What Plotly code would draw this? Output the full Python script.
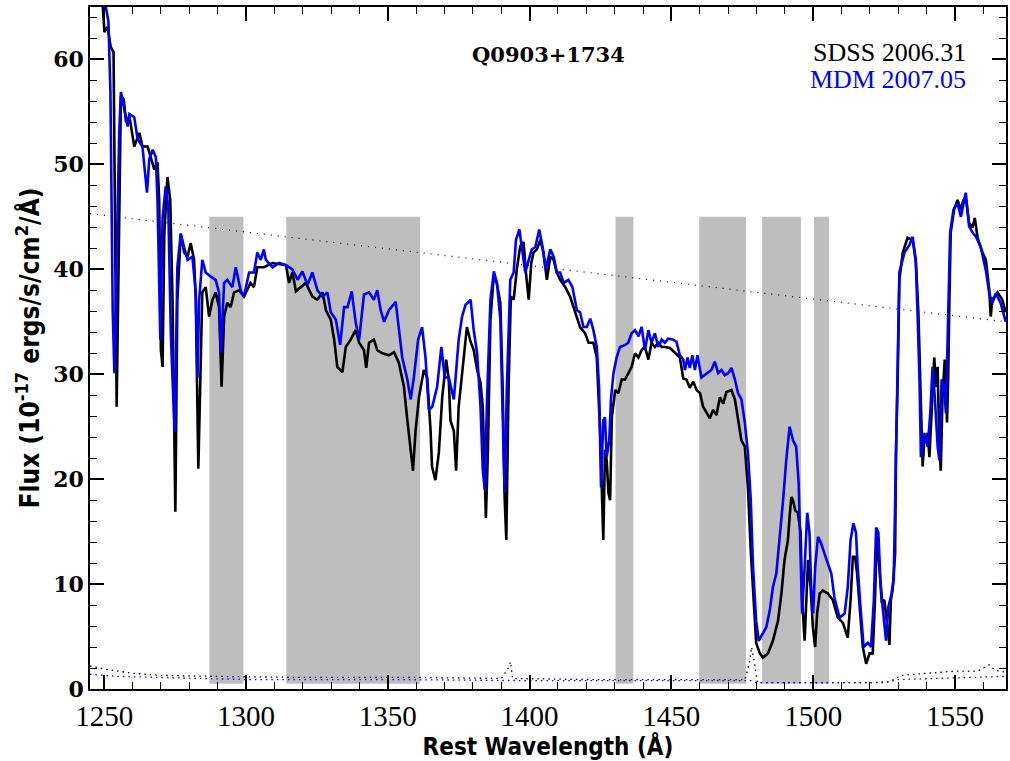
import plotly.graph_objects as go

# ---------------- data ----------------
sdss_wave = [1249.0, 1249.5, 1250.1, 1251.2, 1252.3, 1253.3, 1254.4, 1255.3, 1255.9, 1256.9, 1257.7, 1258.9,
             1260.6, 1262.4, 1263.5, 1265.3, 1266.5, 1267.7, 1268.8, 1269.4, 1270.0, 1270.6, 1271.2, 1272.3,
             1273.3, 1274.1, 1275.1, 1275.8, 1277.0, 1278.2, 1279.4, 1280.5, 1281.7, 1282.3, 1283.2, 1284.6,
             1285.8, 1287.0, 1288.2, 1289.3, 1290.5, 1291.4, 1292.3, 1293.4, 1294.6, 1295.8, 1297.6, 1299.3,
             1301.6, 1302.8, 1304.0, 1306.3, 1309.4, 1314.1, 1315.2, 1316.4, 1317.6, 1319.4, 1321.1, 1323.4,
             1325.2, 1327.0, 1328.2, 1329.9, 1331.1, 1332.2, 1334.0, 1335.2, 1336.9, 1338.7, 1339.9, 1341.6,
             1342.4, 1343.4, 1345.1, 1346.3, 1348.1, 1350.4, 1352.2, 1353.9, 1355.7, 1356.9, 1358.1, 1358.9,
             1359.8, 1361.0, 1362.7, 1363.9, 1365.1, 1365.6, 1366.8, 1368.0, 1369.2, 1370.6, 1371.5, 1372.1,
             1373.3, 1374.1, 1375.0, 1376.2, 1377.4, 1377.9, 1379.2, 1380.3, 1381.5, 1382.7, 1383.5, 1384.2,
             1384.6, 1385.3, 1386.2, 1387.4, 1388.5, 1389.7, 1390.5, 1391.2, 1391.8, 1392.6, 1393.4, 1394.4,
             1395.5, 1396.7, 1397.9, 1398.7, 1399.7, 1400.6, 1401.4, 1402.6, 1403.8, 1404.9, 1406.1, 1407.3,
             1408.5, 1409.6, 1410.8, 1412.6, 1414.3, 1416.1, 1417.8, 1419.6, 1420.8, 1422.5, 1423.7, 1424.9,
             1425.4, 1426.0, 1426.6, 1427.2, 1427.8, 1428.4, 1429.0, 1430.2, 1431.3, 1432.5, 1433.7, 1434.8,
             1436.0, 1437.2, 1438.4, 1439.5, 1440.7, 1441.9, 1443.0, 1444.2, 1445.4, 1446.6, 1447.7, 1449.5,
             1451.3, 1453.0, 1454.2, 1455.3, 1456.5, 1457.7, 1458.9, 1460.1, 1461.2, 1462.4, 1463.6, 1464.7,
             1465.9, 1467.1, 1468.3, 1469.4, 1471.2, 1472.4, 1473.5, 1474.7, 1475.9, 1477.0, 1478.0, 1478.8,
             1479.9, 1481.2, 1482.3, 1484.1, 1485.8, 1487.6, 1488.8, 1489.9, 1491.1, 1491.7, 1492.3, 1492.9,
             1493.7, 1494.6, 1495.6, 1496.1, 1497.0, 1497.6, 1498.2, 1499.1, 1499.9, 1500.7, 1501.4, 1502.3,
             1503.4, 1505.2, 1506.9, 1508.7, 1510.5, 1512.2, 1513.2, 1514.0, 1514.8, 1515.5, 1516.3, 1517.5,
             1518.7, 1519.9, 1521.0, 1521.8, 1522.5, 1523.4, 1524.2, 1525.1, 1526.0, 1526.9, 1527.4, 1528.0,
             1528.9, 1529.2, 1529.8, 1530.4, 1531.6, 1533.3, 1535.1, 1536.2, 1537.1, 1537.8, 1538.6, 1539.2,
             1540.4, 1541.0, 1541.8, 1542.7, 1543.3, 1543.9, 1544.5, 1545.0, 1545.6, 1546.4, 1547.2, 1547.6,
             1548.0, 1548.5, 1549.7, 1550.9, 1552.1, 1553.0, 1553.8, 1555.0, 1556.2, 1557.0, 1558.0, 1559.7,
             1560.9, 1562.1, 1562.6, 1563.2, 1565.0, 1566.7, 1567.9]
sdss_flux = [66.0, 65.1, 62.6, 63.1, 61.2, 60.7, 26.9, 46.6, 56.5, 56.2, 54.0, 54.6,
             51.7, 53.0, 51.7, 51.7, 50.7, 49.5, 50.2, 46.6, 32.3, 30.7, 43.4, 48.8,
             46.6, 37.1, 16.9, 37.1, 43.4, 41.6, 41.2, 42.5, 40.9, 37.1, 21.0, 37.8,
             38.3, 35.5, 37.1, 37.8, 36.4, 28.8, 35.5, 36.8, 36.4, 37.8, 38.0, 37.4,
             38.7, 38.3, 40.2, 40.2, 40.6, 40.4, 38.7, 39.7, 37.9, 38.3, 38.7, 37.4,
             37.1, 37.8, 36.1, 35.2, 33.3, 30.7, 30.2, 32.6, 33.3, 34.2, 33.0, 32.3,
             30.6, 33.0, 33.3, 32.3, 32.0, 31.8, 32.1, 31.1, 28.8, 25.6, 23.0, 20.8,
             24.6, 27.8, 30.4, 29.7, 24.6, 21.2, 19.9, 22.5, 27.8, 31.4, 29.5, 25.6,
             24.6, 20.8, 26.9, 30.1, 33.3, 34.5, 33.1, 32.3, 30.4, 29.2, 26.9, 18.7,
             16.3, 22.5, 35.2, 39.5, 38.6, 36.8, 28.8, 18.3, 14.2, 28.8, 37.4, 37.1,
             40.0, 42.2, 42.6, 39.7, 37.1, 40.6, 41.6, 41.9, 42.8, 41.6, 39.0, 41.2,
             40.9, 39.7, 39.0, 38.3, 37.4, 35.9, 34.5, 33.9, 33.0, 33.0, 31.6, 24.4,
             19.2, 14.2, 22.8, 21.8, 18.7, 18.0, 25.9, 28.5, 28.2, 29.5, 29.5, 30.1,
             30.7, 32.0, 31.6, 32.3, 32.6, 31.4, 33.0, 32.6, 33.0, 32.6, 32.6, 32.5,
             32.0, 31.6, 29.6, 29.5, 28.7, 29.3, 28.5, 28.2, 26.9, 26.4, 25.8, 26.6,
             26.1, 27.8, 27.2, 28.3, 28.5, 27.6, 25.6, 23.7, 23.1, 19.2, 13.2, 9.1,
             4.4, 3.4, 3.0, 3.4, 4.6, 6.5, 9.1, 12.3, 14.2, 16.4, 18.3, 18.0,
             17.0, 16.8, 14.9, 8.5, 4.6, 8.5, 12.3, 9.7, 5.9, 4.0, 7.2, 9.1,
             9.4, 9.1, 8.5, 6.8, 6.3, 4.9, 8.5, 12.6, 12.6, 11.0, 7.8, 4.0,
             2.4, 3.4, 3.4, 8.5, 14.9, 11.6, 8.2, 8.5, 6.5, 4.2, 8.5, 9.4,
             12.9, 22.5, 29.5, 39.0, 41.6, 43.0, 42.8, 40.9, 35.9, 29.5, 21.2, 23.7,
             24.4, 22.1, 26.3, 31.6, 28.8, 30.7, 23.1, 20.8, 27.8, 31.4, 25.4, 29.5,
             36.4, 43.5, 45.7, 46.6, 45.7, 46.6, 46.9, 44.4, 44.0, 44.9, 43.0, 41.6,
             40.9, 38.0, 35.5, 37.1, 37.8, 37.1, 35.9]

mdm_wave = [1249.3, 1250.6, 1251.5, 1252.2, 1252.4, 1253.0, 1253.6, 1254.5, 1255.3, 1255.9, 1257.1, 1258.3,
            1258.9, 1260.6, 1261.8, 1263.5, 1265.1, 1265.9, 1267.1, 1268.2, 1268.8, 1269.8, 1270.6, 1271.7,
            1272.6, 1273.5, 1274.1, 1274.9, 1275.8, 1277.0, 1278.2, 1279.4, 1281.1, 1282.3, 1282.9, 1283.5,
            1284.6, 1285.8, 1287.6, 1289.3, 1290.5, 1291.1, 1292.3, 1293.4, 1295.2, 1296.4, 1298.1, 1299.3,
            1301.1, 1302.8, 1304.0, 1305.2, 1306.3, 1307.0, 1309.4, 1311.7, 1314.1, 1316.4, 1318.2, 1319.9,
            1321.7, 1323.4, 1325.2, 1327.0, 1328.7, 1329.9, 1331.7, 1333.2, 1334.6, 1335.8, 1337.3, 1338.7,
            1339.9, 1341.6, 1343.4, 1345.1, 1346.3, 1347.5, 1348.7, 1350.4, 1352.8, 1353.9, 1355.1, 1356.9,
            1358.1, 1359.2, 1360.7, 1362.1, 1363.3, 1364.5, 1365.7, 1367.4, 1368.9, 1370.1, 1371.5, 1373.3,
            1375.0, 1376.2, 1377.4, 1379.2, 1380.3, 1381.5, 1382.7, 1383.5, 1384.2, 1385.0, 1386.2, 1387.4,
            1388.5, 1389.7, 1390.5, 1391.2, 1392.0, 1393.2, 1394.4, 1395.2, 1396.4, 1397.3, 1398.5, 1399.7,
            1400.8, 1402.0, 1403.4, 1404.6, 1405.7, 1407.3, 1408.5, 1409.6, 1410.8, 1412.0, 1413.7, 1415.1,
            1416.7, 1417.8, 1419.0, 1420.2, 1421.4, 1422.5, 1423.7, 1424.5, 1425.2, 1426.0, 1426.6, 1427.2,
            1428.1, 1428.7, 1429.6, 1430.7, 1431.9, 1433.7, 1434.8, 1436.0, 1437.2, 1438.4, 1439.5, 1440.7,
            1441.9, 1443.0, 1444.2, 1445.4, 1446.6, 1447.7, 1448.9, 1450.7, 1451.8, 1453.0, 1454.2, 1454.8,
            1455.7, 1456.5, 1457.4, 1458.3, 1459.2, 1460.6, 1462.4, 1464.1, 1465.3, 1466.5, 1467.7, 1468.8,
            1470.0, 1471.2, 1472.4, 1473.5, 1474.7, 1475.9, 1477.0, 1478.0, 1478.8, 1479.9, 1480.8, 1482.3,
            1483.5, 1484.7, 1485.8, 1487.0, 1488.2, 1489.4, 1490.5, 1491.7, 1492.9, 1494.0, 1494.9, 1495.6,
            1496.1, 1497.0, 1497.9, 1498.7, 1499.3, 1500.0, 1500.7, 1501.7, 1502.8, 1504.0, 1505.2, 1506.4,
            1507.5, 1509.3, 1511.1, 1512.2, 1513.2, 1514.2, 1515.1, 1515.7, 1516.7, 1517.8, 1519.3, 1520.4,
            1521.4, 1522.2, 1523.0, 1523.7, 1524.5, 1525.7, 1526.5, 1527.5, 1528.4, 1529.2, 1529.8, 1530.4,
            1532.2, 1533.9, 1535.1, 1536.2, 1536.8, 1537.5, 1538.0, 1539.2, 1540.4, 1541.3, 1542.1, 1542.9,
            1543.9, 1544.5, 1545.3, 1546.2, 1546.8, 1547.6, 1548.3, 1549.5, 1550.9, 1552.1, 1553.0, 1553.8,
            1555.0, 1556.2, 1557.4, 1559.1, 1560.9, 1562.1, 1563.2, 1564.4, 1566.1, 1567.9]
mdm_flux = [67.0, 65.1, 63.6, 56.9, 50.7, 36.1, 30.1, 44.1, 53.0, 56.9, 55.2, 53.6,
            54.8, 54.5, 52.4, 51.7, 47.3, 50.5, 51.4, 50.7, 46.6, 33.3, 45.0, 47.9,
            46.0, 33.9, 29.5, 24.5, 40.2, 43.4, 42.1, 40.9, 41.2, 37.8, 29.7, 37.1,
            40.9, 39.7, 39.3, 39.0, 37.8, 32.0, 38.7, 39.0, 38.3, 40.2, 38.0, 37.4,
            39.7, 39.7, 41.6, 40.9, 41.9, 40.9, 40.2, 40.6, 40.4, 40.0, 39.0, 39.8,
            38.5, 39.7, 38.0, 37.4, 37.8, 35.9, 35.2, 32.8, 36.4, 36.4, 37.9, 34.9,
            33.3, 37.6, 37.8, 37.1, 38.0, 36.1, 35.0, 36.1, 36.9, 34.5, 31.6, 29.5,
            27.6, 29.7, 33.3, 34.5, 31.6, 26.6, 26.9, 28.8, 32.6, 29.7, 29.7, 27.6,
            33.3, 35.5, 36.6, 37.1, 34.2, 32.0, 26.9, 20.9, 19.0, 27.6, 37.1, 39.8,
            38.7, 35.2, 25.6, 18.7, 28.8, 39.0, 39.7, 42.8, 43.8, 42.1, 39.7, 40.9,
            41.9, 42.1, 43.8, 42.1, 40.0, 41.9, 41.2, 39.7, 39.7, 38.7, 39.0, 38.3,
            36.1, 35.9, 34.5, 34.5, 35.3, 34.2, 32.6, 28.8, 19.2, 25.6, 25.9, 22.1,
            23.7, 27.6, 30.1, 31.6, 32.6, 32.8, 33.0, 33.9, 34.2, 33.6, 34.5, 32.3,
            34.2, 33.0, 33.9, 32.6, 33.3, 33.0, 33.4, 33.3, 33.1, 31.8, 31.4, 30.4,
            31.6, 30.6, 31.8, 30.4, 31.8, 29.7, 30.1, 30.4, 31.2, 30.1, 30.4, 29.9,
            30.1, 30.6, 29.5, 28.2, 27.6, 25.4, 22.5, 18.0, 11.6, 6.5, 4.6, 5.3,
            5.9, 7.5, 9.7, 11.0, 14.2, 18.0, 21.8, 25.0, 23.7, 23.1, 19.6, 12.3,
            7.2, 11.6, 16.8, 14.9, 9.7, 7.2, 11.6, 14.5, 13.9, 12.9, 12.0, 11.0,
            8.7, 6.8, 7.2, 9.7, 14.2, 15.8, 14.9, 11.6, 7.8, 4.0, 4.4, 4.0,
            8.5, 15.4, 14.9, 10.4, 7.8, 4.6, 7.8, 8.9, 10.4, 21.1, 29.5, 39.7,
            41.6, 42.3, 43.1, 40.6, 35.9, 29.5, 22.1, 24.4, 23.1, 26.3, 30.7, 27.8,
            23.1, 21.8, 29.5, 28.8, 26.3, 35.9, 43.5, 45.7, 46.3, 45.0, 46.3, 47.3,
            44.1, 43.5, 43.1, 42.1, 39.9, 37.7, 36.8, 37.7, 36.8, 35.0]

# error spectra (dotted, near zero)
sdss_err_wave = [1245, 1250, 1260, 1270, 1290, 1320, 1360, 1390, 1392.5, 1393.3, 1394, 1420, 1450, 1476,
                 1477.5, 1478.3, 1479.3, 1480.3, 1500, 1520, 1527, 1531, 1540, 1550, 1558, 1562, 1564, 1568]
sdss_err = [2.2, 1.9, 1.5, 1.3, 1.2, 1.1, 1.1, 1.0, 2.0, 2.6, 1.0, 0.9, 0.9, 0.9,
            2.5, 4.0, 2.5, 0.6, 0.6, 0.6, 0.7, 1.3, 1.5, 1.7, 1.7, 2.3, 1.8, 1.6]
mdm_err_wave = [1245, 1255, 1270, 1300, 1350, 1400, 1450, 1478, 1480, 1500, 1525, 1530, 1545, 1560, 1568]
mdm_err = [1.4, 1.2, 1.1, 0.9, 0.9, 0.8, 0.8, 0.8, 0.6, 0.6, 0.6, 0.9, 1.0, 1.1, 1.2]

# continuum fit (dotted line)
cont_wave = [1245, 1568]
cont_flux = [45.3, 35.0]

# shaded absorption windows
band_lo = [1287.1, 1314.2, 1430.3, 1459.8, 1482.0, 1500.3]
band_hi = [1299.1, 1361.4, 1436.6, 1476.3, 1495.7, 1505.6]
band_bottom = 0.5
band_top = 45.0

x_range = [1245, 1568]
y_range = [0, 65]
x_ticks = [1250, 1300, 1350, 1400, 1450, 1500, 1550]
y_ticks = [0, 10, 20, 30, 40, 50, 60]

# ---------------- figure ----------------
fig = go.Figure()

for lo, hi in zip(band_lo, band_hi):
    fig.add_shape(type="rect", xref="x", yref="y", x0=lo, x1=hi, y0=band_bottom, y1=band_top,
                  fillcolor="#BEBEBE", line=dict(width=0), layer="below")

fig.add_trace(go.Scatter(x=cont_wave, y=cont_flux, mode="lines",
                         line=dict(color="black", width=1.2, dash="1px,6px"), hoverinfo="skip"))
fig.add_trace(go.Scatter(x=sdss_err_wave, y=sdss_err, mode="lines",
                         line=dict(color="black", width=1.3, dash="1.5px,4px"), hoverinfo="skip"))
fig.add_trace(go.Scatter(x=mdm_err_wave, y=mdm_err, mode="lines",
                         line=dict(color="#0000FF", width=1.3, dash="1.5px,4px"), hoverinfo="skip"))
fig.add_trace(go.Scatter(x=sdss_wave, y=sdss_flux, mode="lines", name="SDSS 2006.31",
                         line=dict(color="black", width=2.6)))
fig.add_trace(go.Scatter(x=mdm_wave, y=mdm_flux, mode="lines", name="MDM 2007.05",
                         line=dict(color="#0000FF", width=2.6)))

narrow = "Liberation Sans Narrow"
cond_bold = "DejaVu Sans Condensed"
tickfont_x = dict(family=narrow, size=29, color="black")
tickfont_y = dict(family="DejaVu Serif", size=22, color="black", weight="bold")

fig.update_xaxes(range=x_range, tickvals=x_ticks, ticktext=[str(t) for t in x_ticks],
                 ticks="inside", ticklen=14, tickwidth=1.5, tickcolor="black",
                 minor=dict(dtick=10, tick0=1250, ticks="inside", ticklen=7, tickwidth=1.2, tickcolor="black"),
                 showline=True, linecolor="black", linewidth=1.5, mirror="allticks",
                 showgrid=False, zeroline=False, tickfont=tickfont_x,
                 title=dict(text="Rest Wavelength (Å)", standoff=2,
                            font=dict(family=cond_bold, size=24, color="black", weight="bold")))
fig.update_yaxes(range=y_range, tickvals=y_ticks, ticktext=[str(t) for t in y_ticks],
                 ticks="inside", ticklen=14, tickwidth=1.5, tickcolor="black",
                 minor=dict(dtick=2, tick0=0, ticks="inside", ticklen=7, tickwidth=1.2, tickcolor="black"),
                 showline=True, linecolor="black", linewidth=1.5, mirror="allticks",
                 showgrid=False, zeroline=False, tickfont=tickfont_y,
                 title=dict(text="Flux (10<sup>-17</sup> ergs/s/cm<sup>2</sup>/Å)", standoff=6,
                            font=dict(family=cond_bold, size=26, color="black", weight="bold")))

fig.add_annotation(x=0.501, xref="paper", y=60.5, yref="y", text="<b>Q0903+1734</b>",
                   showarrow=False, font=dict(family="DejaVu Serif", size=21, color="black"),
                   xanchor="center", yanchor="middle")
fig.add_annotation(x=0.9586, xref="paper", y=0.934, yref="paper", text="SDSS 2006.31",
                   showarrow=False, font=dict(family="Liberation Serif", size=26, color="black"),
                   xanchor="right", yanchor="middle")
fig.add_annotation(x=0.9586, xref="paper", y=0.893, yref="paper", text="MDM 2007.05",
                   showarrow=False, font=dict(family="Liberation Serif", size=26, color="#0000FF"),
                   xanchor="right", yanchor="middle")

fig.update_layout(width=1010, height=761, margin=dict(l=90, r=2, t=7, b=72),
                  plot_bgcolor="white", paper_bgcolor="white", showlegend=False)

fig.write_html("out.html")
